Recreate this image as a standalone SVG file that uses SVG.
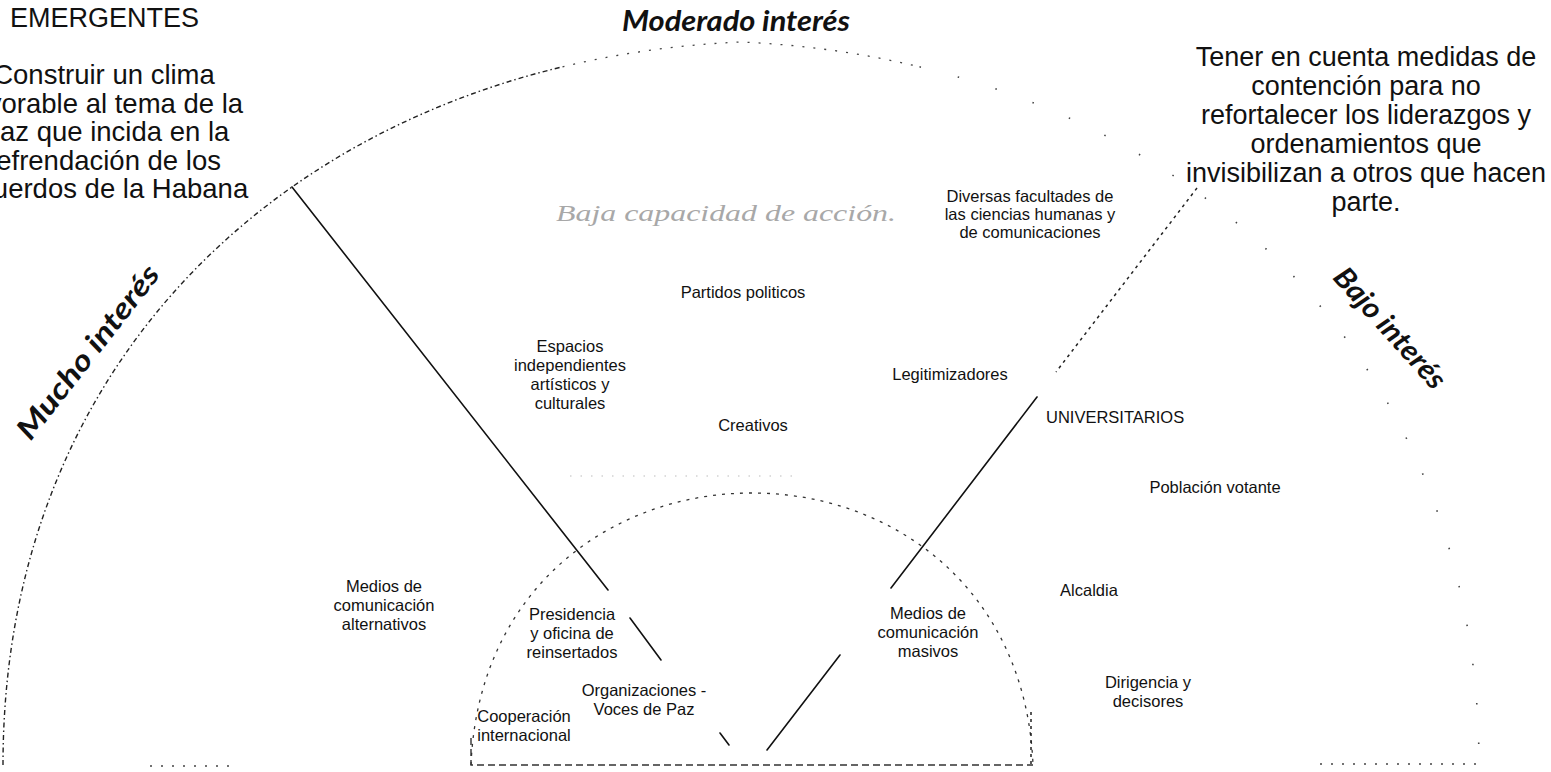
<svg xmlns="http://www.w3.org/2000/svg" width="1551" height="772" viewBox="0 0 1551 772">
<style>
.big{font-family:"Liberation Sans",Arial,sans-serif;font-size:27px;fill:#111}
.blk{font-size:27.5px}
.mid{text-anchor:middle}
.lbl{font-family:"Liberation Sans",Arial,sans-serif;font-size:16.5px;fill:#111;text-anchor:middle}
.axis{font-family:Lato,"Open Sans",sans-serif;font-weight:bold;font-style:italic;font-size:29px;fill:#111;text-anchor:middle}
.faint{font-family:"Liberation Serif",serif;font-style:italic;font-size:24px;fill:#a8a8a8;text-anchor:middle}
.solid{stroke:#111;stroke-width:1.6;fill:none;stroke-linecap:round}
.dotted{stroke:#222;stroke-width:1.5;fill:none;stroke-dasharray:3 4}
.arcDense{stroke:#222;stroke-width:1.4;fill:none;stroke-dasharray:5 3 1.5 3}
.arcTop{stroke:#444;stroke-width:1.3;fill:none;stroke-dasharray:2 9}
.arcSparse{stroke:#444;stroke-width:1.6;fill:none;stroke-dasharray:1.5 38}
.inner{stroke:#333;stroke-width:1.3;fill:none;stroke-dasharray:3 6}
.base{stroke:#333;stroke-width:1.4;fill:none;stroke-dasharray:7 4}
</style>
<rect width="1551" height="772" fill="#ffffff"/>

<g id="arcs">
  <path class="arcDense" d="M3,765 C3,395.25 239.3,144.7 562.5,66.8"/>
  <path class="arcTop" d="M562.5,66.8 C619.6,53.1 679.4,44.7 741,42 C802.6,44.7 862.4,53.1 919.5,66.8"/>
  <path class="arcSparse" d="M919.5,66.8 C1242.7,144.7 1479,395.25 1479,765"/>
  <path class="inner" d="M471,765 C478,590 610,493 752,493 C894,493 1026,590 1033,765"/>
  <path class="base" d="M471,738 L471,765 L1033,765"/>
  <path class="dotted" d="M1031,712 L1031,765"/>
  <path class="arcTop" d="M150,766 L232,766"/>
  <path class="arcTop" d="M1320,764 L1482,764"/>
  <path d="M570,476 L800,476" stroke="#bbb" stroke-width="1.2" stroke-dasharray="1.5 9" fill="none"/>
</g>

<g id="connectors">
  <line class="solid" x1="292" y1="187" x2="608" y2="590"/>
  <line class="solid" x1="630" y1="618" x2="661" y2="660"/>
  <line class="solid" x1="720" y1="733" x2="729" y2="745"/>
  <line class="dotted" x1="1197" y1="188" x2="1056" y2="372"/>
  <line class="solid" x1="1037" y1="397" x2="891" y2="588"/>
  <line class="solid" x1="840" y1="655" x2="767" y2="750"/>
</g>

<g id="emergentes">
  <text class="big" x="10" y="27" font-size="26">EMERGENTES</text>
</g>

<g id="objetivo">
  <text class="big blk mid" x="104" y="84">Construir un clima</text>
  <text class="big blk mid" x="104" y="112.5">favorable al tema de la</text>
  <text class="big blk mid" x="107" y="141">paz que incida en la</text>
  <text class="big blk mid" x="104" y="169.5">refrendación de los</text>
  <text class="big blk mid" x="106" y="198">acuerdos de la Habana</text>
</g>

<g id="recomendacion">
  <text class="big mid" x="1366" y="66">Tener en cuenta medidas de</text>
  <text class="big mid" x="1366" y="95">contención para no</text>
  <text class="big mid" x="1366" y="124">refortalecer los liderazgos y</text>
  <text class="big mid" x="1366" y="153">ordenamientos que</text>
  <text class="big mid" x="1366" y="182">invisibilizan a otros que hacen</text>
  <text class="big mid" x="1366" y="211">parte.</text>
</g>

<g id="moderado-interes">
  <text class="axis" x="736" y="31" textLength="228" lengthAdjust="spacingAndGlyphs">Moderado interés</text>
</g>
<g id="mucho-interes">
  <text class="axis" transform="translate(88,352) rotate(-52)" x="0" y="10" textLength="212" lengthAdjust="spacingAndGlyphs">Mucho interés</text>
</g>
<g id="bajo-interes">
  <text class="axis" transform="translate(1390,328) rotate(48)" x="0" y="10" textLength="152" lengthAdjust="spacingAndGlyphs">Bajo interés</text>
</g>

<g id="baja-capacidad">
  <text class="faint" x="726" y="221" textLength="340" lengthAdjust="spacingAndGlyphs">Baja capacidad de acción.</text>
</g>

<g id="diversas-facultades">
  <text class="lbl" x="1030" y="202">Diversas facultades de</text>
  <text class="lbl" x="1030" y="220">las ciencias humanas y</text>
  <text class="lbl" x="1030" y="238">de comunicaciones</text>
</g>
<g id="partidos-politicos">
  <text class="lbl" x="743" y="298">Partidos politicos</text>
</g>
<g id="espacios-independientes">
  <text class="lbl" x="570" y="352">Espacios</text>
  <text class="lbl" x="570" y="371">independientes</text>
  <text class="lbl" x="570" y="390">artísticos y</text>
  <text class="lbl" x="570" y="409">culturales</text>
</g>
<g id="legitimizadores">
  <text class="lbl" x="950" y="380">Legitimizadores</text>
</g>
<g id="creativos">
  <text class="lbl" x="753" y="431">Creativos</text>
</g>
<g id="universitarios">
  <text class="lbl" x="1046" y="423" style="text-anchor:start">UNIVERSITARIOS</text>
</g>
<g id="poblacion-votante">
  <text class="lbl" x="1215" y="493">Población votante</text>
</g>
<g id="medios-alternativos">
  <text class="lbl" x="384" y="592">Medios de</text>
  <text class="lbl" x="384" y="611">comunicación</text>
  <text class="lbl" x="384" y="630">alternativos</text>
</g>
<g id="presidencia">
  <text class="lbl" x="572" y="620">Presidencia</text>
  <text class="lbl" x="572" y="639">y oficina de</text>
  <text class="lbl" x="572" y="658">reinsertados</text>
</g>
<g id="alcaldia">
  <text class="lbl" x="1089" y="596">Alcaldia</text>
</g>
<g id="medios-masivos">
  <text class="lbl" x="928" y="619">Medios de</text>
  <text class="lbl" x="928" y="638">comunicación</text>
  <text class="lbl" x="928" y="657">masivos</text>
</g>
<g id="organizaciones">
  <text class="lbl" x="644" y="696">Organizaciones -</text>
  <text class="lbl" x="644" y="715">Voces de Paz</text>
</g>
<g id="dirigencia">
  <text class="lbl" x="1148" y="688">Dirigencia y</text>
  <text class="lbl" x="1148" y="707">decisores</text>
</g>
<g id="cooperacion">
  <text class="lbl" x="524" y="722">Cooperación</text>
  <text class="lbl" x="524" y="741">internacional</text>
</g>
</svg>
